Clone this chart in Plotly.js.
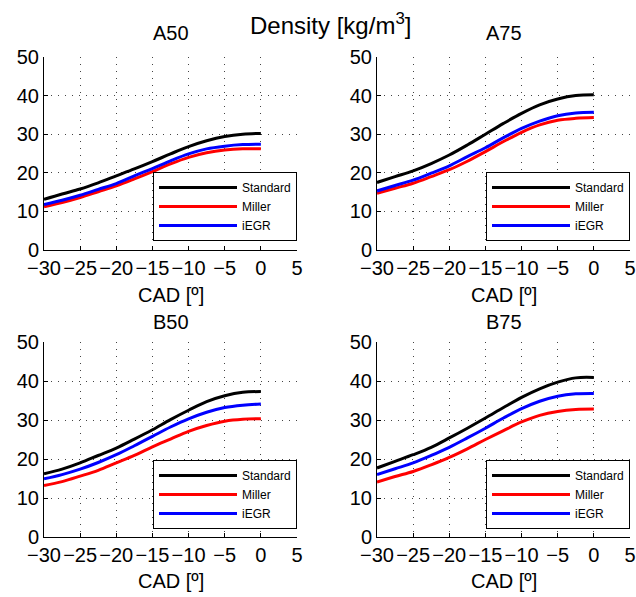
<!DOCTYPE html>
<html>
<head>
<meta charset="utf-8">
<script src="https://cdn.plot.ly/plotly-3.0.1.min.js"></script>
<style>html,body{margin:0;padding:0;background:#fff;}#chart{width:636px;height:597px;}</style>
</head>
<body>
<div id="chart"></div>
<script>
// CAD positions (degrees)
var cad = [-30, -27.5, -25, -22.5, -20, -17.5, -15, -12.5, -10, -7.5, -5, -2.5, 0];
var seriesNames = ['Standard', 'Miller', 'iEGR'];
var panelTitles = ['A50', 'A75', 'B50', 'B75'];
var xTicks = [-30, -25, -20, -15, -10, -5, 0, 5];
var yTicks = [0, 10, 20, 30, 40, 50];

// Density [kg/m^3]
var a50Standard = [13.1, 14.5, 15.8, 17.4, 19.2, 21.0, 22.9, 24.9, 26.8, 28.3, 29.4, 30.0, 30.2];
var a50Miller   = [11.2, 12.3, 13.6, 15.1, 16.6, 18.4, 20.3, 22.3, 24.0, 25.2, 25.9, 26.2, 26.2];
var a50iEGR     = [11.8, 12.9, 14.2, 15.7, 17.2, 19.2, 21.1, 23.1, 24.9, 26.2, 26.9, 27.3, 27.4];

var a75Standard = [17.5, 19.0, 20.5, 22.4, 24.6, 27.2, 30.0, 32.8, 35.4, 37.6, 39.1, 40.0, 40.2];
var a75Miller   = [14.7, 16.0, 17.3, 19.0, 20.8, 23.0, 25.5, 28.1, 30.5, 32.4, 33.6, 34.1, 34.3];
var a75iEGR     = [15.3, 16.7, 18.1, 19.9, 21.8, 24.2, 26.5, 29.1, 31.5, 33.4, 34.8, 35.5, 35.7];

var b50Standard = [16.2, 17.4, 19.0, 20.9, 22.8, 25.1, 27.5, 30.1, 32.5, 34.7, 36.2, 37.1, 37.3];
var b50Miller   = [13.2, 14.2, 15.6, 17.1, 19.0, 20.9, 23.1, 25.1, 27.1, 28.6, 29.7, 30.2, 30.3];
var b50iEGR     = [14.9, 16.0, 17.4, 19.1, 21.1, 23.4, 25.8, 28.2, 30.3, 32.0, 33.2, 33.8, 34.1];

var b75Standard = [17.7, 19.4, 21.1, 23.0, 25.4, 27.9, 30.5, 33.2, 35.8, 38.0, 39.7, 40.8, 40.9];
var b75Miller   = [14.1, 15.5, 16.8, 18.5, 20.4, 22.6, 25.0, 27.3, 29.5, 31.2, 32.2, 32.7, 32.8];
var b75iEGR     = [16.0, 17.5, 19.0, 20.9, 23.0, 25.4, 27.9, 30.5, 32.9, 34.8, 36.1, 36.7, 36.8];

var panels = [
  [a50Standard, a50Miller, a50iEGR],
  [a75Standard, a75Miller, a75iEGR],
  [b50Standard, b50Miller, b50iEGR],
  [b75Standard, b75Miller, b75iEGR]
];
var colors = ['#000000', '#ff0000', '#0000ff'];
var FONT = 'Liberation Sans, Arial, Helvetica, sans-serif';

var W = 636, H = 597;
var xDom = [[44 / W, 297 / W], [377 / W, 630 / W]];
var yDom = [[(H - 250) / H, (H - 57) / H], [(H - 537) / H, (H - 342) / H]];

var data = [];
var layout = {
  width: W, height: H,
  margin: {l: 0, r: 0, t: 0, b: 0},
  paper_bgcolor: '#ffffff', plot_bgcolor: '#ffffff',
  font: {family: FONT, size: 20, color: '#000'},
  showlegend: true,
  annotations: []
};

for (var p = 0; p < 4; p++) {
  var col = p % 2, row = Math.floor(p / 2);
  var sfx = p === 0 ? '' : String(p + 1);
  var legName = 'legend' + sfx;
  for (var s = 0; s < 3; s++) {
    data.push({
      type: 'scatter', mode: 'lines',
      x: cad, y: panels[p][s],
      name: seriesNames[s],
      xaxis: 'x' + sfx, yaxis: 'y' + sfx,
      legend: legName,
      line: {color: colors[s], width: 3, shape: 'spline', smoothing: 1}
    });
  }
  var axCommon = {
    showline: true, linecolor: '#000', linewidth: 1,
    ticks: 'inside', ticklen: 4, tickcolor: '#000', tickwidth: 1,
    showgrid: true, gridcolor: '#444', gridwidth: 1, griddash: '1px,6px',
    zeroline: false, mirror: false,
    tickfont: {family: FONT, size: 20, color: '#000'},
    fixedrange: true
  };
  layout['xaxis' + sfx] = Object.assign({}, axCommon, {
    domain: xDom[col], range: [-30, 5],
    tickmode: 'array', tickvals: xTicks, ticktext: xTicks.map(function (v) { return v < 0 ? '\u2212' + Math.abs(v) : String(v); }),
    anchor: 'y' + sfx
  });
  layout['yaxis' + sfx] = Object.assign({}, axCommon, {
    domain: yDom[row], range: [0, 50],
    tickmode: 'array', tickvals: yTicks,
    anchor: 'x' + sfx
  });
  var legBottomPx = row === 0 ? 241 : 529;
  layout[legName] = {
    x: xDom[col][1], xanchor: 'right',
    y: (H - legBottomPx) / H, yanchor: 'bottom',
    bgcolor: '#ffffff', bordercolor: '#000', borderwidth: 1,
    font: {family: FONT, size: 12, color: '#000'},
    itemwidth: 78,
    tracegroupgap: 0
  };
  var cx = (xDom[col][0] + xDom[col][1]) / 2;
  layout.annotations.push({
    text: panelTitles[p], xref: 'paper', yref: 'paper',
    x: cx, y: row === 0 ? 1 - 33 / H : 1 - 322 / H,
    xanchor: 'center', yanchor: 'middle', showarrow: false,
    font: {family: FONT, size: 20, color: '#000'}
  });
  layout.annotations.push({
    text: 'CAD [\u00ba]', xref: 'paper', yref: 'paper',
    x: cx, y: row === 0 ? 1 - 295 / H : 1 - 581 / H,
    xanchor: 'center', yanchor: 'middle', showarrow: false,
    font: {family: FONT, size: 20, color: '#000'}
  });
}
layout.annotations.push({
  text: 'Density [kg/m<sup>3</sup>]', xref: 'paper', yref: 'paper',
  x: 330 / W, y: 1 - 24 / H, xanchor: 'center', yanchor: 'middle', showarrow: false,
  font: {family: FONT, size: 24, color: '#000'}
});

Plotly.newPlot('chart', data, layout, {displayModeBar: false, staticPlot: true});
</script>
</body>
</html>
